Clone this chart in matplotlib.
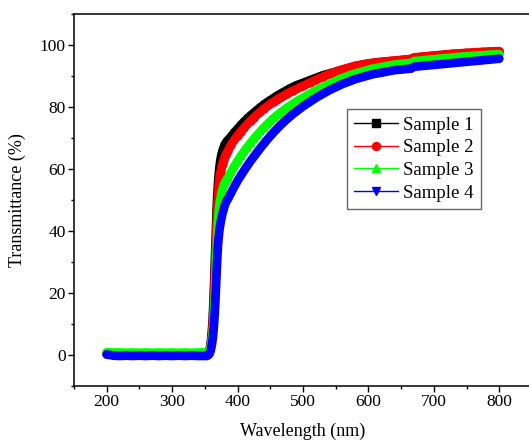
import numpy as np
import matplotlib
matplotlib.use("Agg")
import matplotlib.pyplot as plt

plt.rcParams['font.family'] = ['Liberation Serif', 'DejaVu Serif']

# wavelength grid (nm): flat region, absorption edge, tail
wl_flat = np.arange(200, 351, 10)
wl_edge = np.arange(351, 385, 1)
wl_tail = np.arange(385, 801, 5)
wavelength = np.concatenate([wl_flat, wl_edge, wl_tail])

# Sample 1 (black)
s1_flat = [0.3, 0.2, 0.3, 0.2, 0.3, 0.2, 0.3, 0.2, 0.3, 0.3, 0.2, 0.3, 0.2, 0.3, 0.2, 0.3]
s1_edge = [0.3, 0.4, 0.3, 0.5, 0.6, 0.9, 1.5, 2.5, 4.0, 6.0, 8.5, 12.0, 16.5, 22.0, 28.5, 35.0, 41.5,
           47.0, 51.5, 55.0, 57.8, 60.0, 61.8, 63.2, 64.3, 65.2, 66.0, 66.6, 67.2, 67.7, 68.0, 68.4,
           68.7, 69.0]
s1_tail = [69.3, 70.5, 71.8, 73.0, 74.2, 75.3, 76.3, 77.3, 78.2, 79.1, 79.9, 80.8, 81.5, 82.2, 82.9,
           83.6, 84.2, 84.8, 85.4, 86.0, 86.5, 87.0, 87.4, 87.8, 88.2, 88.6, 89.0, 89.4, 89.8, 90.2,
           90.5, 90.8, 91.1, 91.4, 91.7, 92.0, 92.3, 92.6, 92.9, 93.2, 93.4, 93.6, 93.8, 94.0, 94.1,
           94.3, 94.4, 94.5, 94.6, 94.7, 94.8, 94.9, 95.0, 95.1, 95.2, 95.3, 95.4, 95.9, 96.0, 96.1,
           96.2, 96.3, 96.4, 96.5, 96.6, 96.7, 96.8, 96.9, 97.0, 97.1, 97.1, 97.2, 97.3, 97.4, 97.4,
           97.5, 97.6, 97.6, 97.7, 97.7, 97.8, 97.8, 97.9, 97.9]

# Sample 2 (red)
s2_flat = [0.2, 0.1, 0.2, 0.1, 0.2, 0.2, 0.1, 0.2, 0.1, 0.2, 0.2, 0.1, 0.2, 0.1, 0.2, 0.2]
s2_edge = [0.2, 0.3, 0.2, 0.4, 0.5, 0.7, 1.1, 1.9, 3.1, 4.8, 7.0, 10.0, 14.0, 19.0, 25.0, 31.5, 37.5,
           43.0, 47.5, 51.0, 54.0, 56.4, 58.3, 59.0, 60.0, 60.9, 61.7, 62.4, 63.0, 63.6, 64.1, 64.6,
           65.0, 65.4]
s2_tail = [65.8, 67.8, 69.4, 70.8, 72.1, 73.3, 74.5, 75.6, 76.6, 77.6, 78.5, 79.4, 80.2, 81.0, 81.7,
           82.4, 83.0, 83.6, 84.2, 84.8, 85.3, 85.8, 86.3, 86.8, 87.3, 87.8, 88.3, 88.8, 89.3, 89.7,
           90.2, 90.6, 91.0, 91.4, 91.8, 92.1, 92.4, 92.7, 93.0, 93.3, 93.5, 93.7, 93.9, 94.1, 94.2,
           94.4, 94.5, 94.6, 94.7, 94.8, 94.9, 95.0, 95.1, 95.2, 95.3, 95.4, 95.5, 96.0, 96.1, 96.2,
           96.3, 96.4, 96.5, 96.6, 96.7, 96.8, 96.9, 97.0, 97.1, 97.2, 97.2, 97.3, 97.4, 97.5, 97.5,
           97.6, 97.7, 97.7, 97.8, 97.8, 97.9, 97.9, 98.0, 98.0]

# Sample 3 (green)
s3_flat = [0.9, 0.8, 0.8, 0.7, 0.8, 0.7, 0.8, 0.7, 0.8, 0.7, 0.8, 0.7, 0.8, 0.7, 0.8, 0.8]
s3_edge = [0.8, 0.9, 0.8, 0.9, 1.0, 1.1, 1.4, 1.9, 2.7, 3.8, 5.3, 7.3, 10.0, 13.5, 18.0, 23.5, 29.5,
           35.0, 39.5, 43.0, 45.8, 47.8, 49.4, 50.7, 51.8, 52.7, 53.5, 54.2, 54.8, 55.3, 55.7, 56.1,
           56.5, 56.8]
s3_tail = [57.0, 59.0, 60.9, 62.6, 64.2, 65.7, 67.1, 68.5, 69.8, 71.0, 72.2, 73.3, 74.4, 75.4, 76.4,
           77.3, 78.1, 78.9, 79.7, 80.4, 81.1, 81.8, 82.4, 83.0, 83.6, 84.2, 84.8, 85.4, 85.9, 86.4,
           86.9, 87.4, 87.9, 88.4, 88.9, 89.3, 89.7, 90.1, 90.5, 90.8, 91.1, 91.4, 91.7, 92.0, 92.3,
           92.5, 92.7, 92.9, 93.1, 93.3, 93.5, 93.7, 93.8, 93.9, 94.0, 94.1, 94.2, 94.8, 94.9, 95.0,
           95.1, 95.2, 95.3, 95.4, 95.5, 95.6, 95.7, 95.8, 95.9, 96.0, 96.1, 96.2, 96.3, 96.4, 96.4,
           96.5, 96.6, 96.7, 96.7, 96.8, 96.9, 96.9, 97.0, 97.0]

# Sample 4 (blue)
s4_flat = [0.2, -0.2, -0.3, -0.2, -0.3, -0.2, -0.3, -0.2, -0.3, -0.2, -0.3, -0.2, -0.3, -0.2, -0.3, -0.3]
s4_edge = [-0.3, -0.2, -0.3, -0.2, -0.1, 0.1, 0.4, 0.9, 1.6, 2.5, 3.7, 5.3, 7.4, 10.0, 13.3, 17.3,
           22.0, 27.0, 31.5, 35.3, 37.8, 39.8, 41.4, 42.7, 43.8, 44.8, 45.7, 46.5, 47.3, 48.0, 48.6,
           49.1, 49.6, 49.9]
s4_tail = [50.2, 52.3, 54.3, 56.2, 57.9, 59.5, 61.1, 62.6, 64.0, 65.4, 66.8, 68.1, 69.4, 70.6, 71.8,
           72.9, 74.0, 75.0, 76.0, 76.9, 77.8, 78.6, 79.4, 80.2, 80.9, 81.6, 82.3, 83.0, 83.6, 84.2,
           84.8, 85.4, 85.9, 86.4, 86.9, 87.4, 87.8, 88.2, 88.6, 89.0, 89.3, 89.6, 89.9, 90.2, 90.5,
           90.7, 90.9, 91.1, 91.3, 91.5, 91.7, 91.9, 92.0, 92.1, 92.2, 92.3, 92.4, 93.0, 93.1, 93.2,
           93.3, 93.4, 93.5, 93.6, 93.7, 93.8, 93.9, 94.0, 94.1, 94.2, 94.3, 94.4, 94.5, 94.6, 94.7,
           94.8, 94.9, 95.0, 95.1, 95.2, 95.3, 95.4, 95.5, 95.6]

labels = ["Sample 1", "Sample 2", "Sample 3", "Sample 4"]
colors = ["#000000", "#ff0000", "#00ff00", "#0000ff"]
markers = ["s", "o", "^", "v"]
series = [s1_flat + s1_edge + s1_tail,
          s2_flat + s2_edge + s2_tail,
          s3_flat + s3_edge + s3_tail,
          s4_flat + s4_edge + s4_tail]

fig = plt.figure(figsize=(5.29, 4.44), dpi=100)
ax = fig.add_axes([0.1399, 0.1306, 0.8658, 0.8378])

for vals, lab, col, mk in zip(series, labels, colors, markers):
    # dense scan points merge into a solid band
    ax.plot(wavelength, vals, '-', color=col, lw=6.3, solid_capstyle='round',
            solid_joinstyle='round')
    ax.plot(wavelength, vals, '-', color=col, lw=1, marker=mk, ms=5,
            mec=col, mfc=col, label=lab)

ax.set_xlim(150, 850)
ax.set_ylim(-10, 110)
ax.set_xticks(range(200, 801, 100))
ax.set_xticks(range(150, 851, 50), minor=True)
ax.set_yticks(range(0, 101, 20))
ax.set_yticks(range(-10, 111, 10), minor=True)

ax.spines['right'].set_visible(False)
for s in ['left', 'top', 'bottom']:
    ax.spines[s].set_linewidth(1.1)
ax.tick_params(which='major', direction='out', length=4, width=1, labelsize=12.5, pad=2)
ax.tick_params(which='minor', direction='out', length=2.5, width=1)
ax.tick_params(top=False, right=False, which='both')

ax.set_xlabel("Wavelength (nm)", fontsize=13, labelpad=9)
ax.set_ylabel("Transmittance (%)", fontsize=13, labelpad=10)

leg = ax.legend(loc='upper left', bbox_to_anchor=(0.596, 0.745), borderaxespad=0,
                fontsize=13.5, frameon=True, fancybox=False, handlelength=2.3,
                handletextpad=0.3, labelspacing=0.3, borderpad=0.4, markerscale=1.15)
leg.get_frame().set_edgecolor('#404040')
leg.get_frame().set_linewidth(1)

fig.savefig("out.png", dpi=100)
